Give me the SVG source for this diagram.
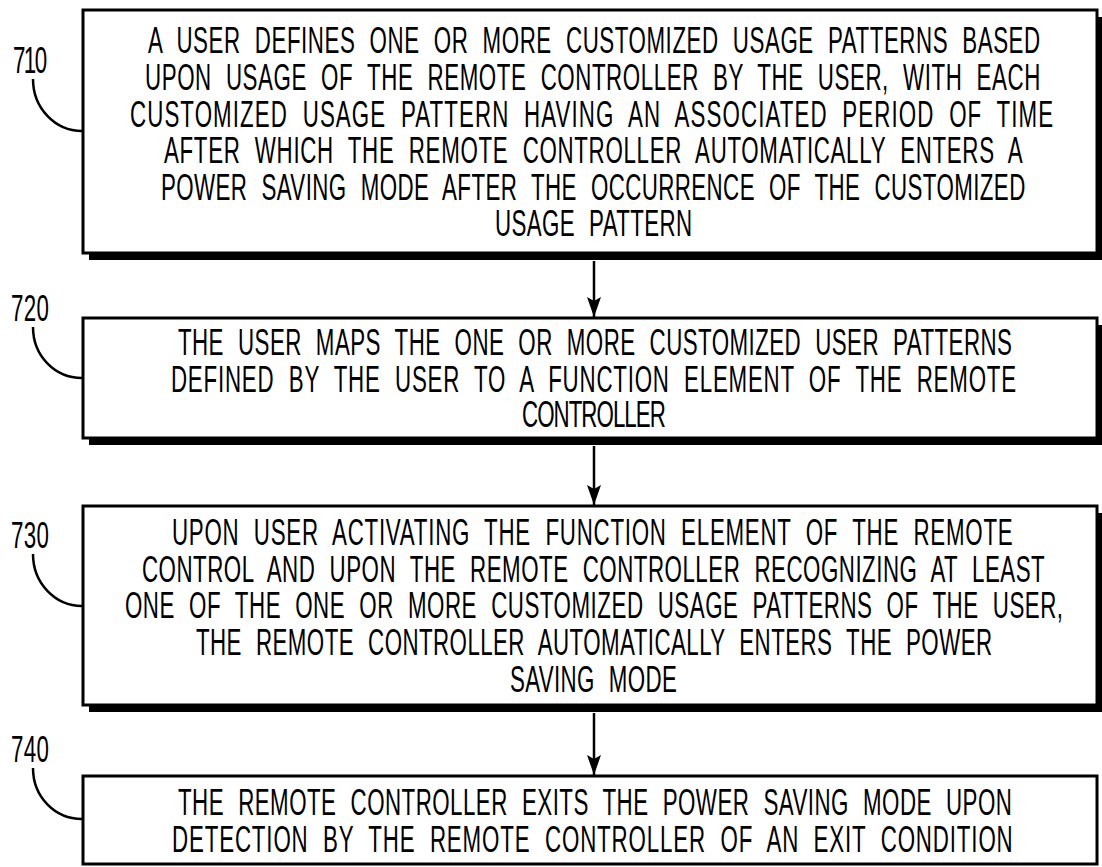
<svg xmlns="http://www.w3.org/2000/svg" width="1102" height="867" viewBox="0 0 1102 867">
<style>
.box{fill:#fff;stroke:#000;stroke-width:3}
.shadow{fill:#000}
.t{font-family:"Liberation Sans",Arial,sans-serif;font-size:36px;fill:#000;word-spacing:12px}
.lead{fill:none;stroke:#000;stroke-width:2.5}
.conn{stroke:#000;stroke-width:2.5;fill:none}
</style>
<defs>
<marker id="ah" markerWidth="20" markerHeight="14" refX="20" refY="7" orient="auto" markerUnits="userSpaceOnUse" viewBox="0 0 20 14">
<path d="M0,0 L20,7 L0,14 L4,7 Z" fill="#000"/>
</marker>
</defs>
<rect width="1102" height="867" fill="#fff"/>
<g id="connectors">
<line class="conn" x1="594" y1="261" x2="594" y2="317" marker-end="url(#ah)"/>
<line class="conn" x1="594" y1="446" x2="594" y2="505" marker-end="url(#ah)"/>
<line class="conn" x1="594" y1="713" x2="594" y2="775" marker-end="url(#ah)"/>
</g>
<g id="n710">
<rect class="shadow" x="89" y="17" width="1014" height="243"/>
<rect class="box" x="83" y="10" width="1014" height="243"/>
<text class="t" transform="translate(148,53) scale(0.62,1)" textLength="1439" lengthAdjust="spacing">A USER DEFINES ONE OR MORE CUSTOMIZED USAGE PATTERNS BASED</text>
<text class="t" transform="translate(145,90) scale(0.62,1)" textLength="1444" lengthAdjust="spacing">UPON USAGE OF THE REMOTE CONTROLLER BY THE USER, WITH EACH</text>
<text class="t" transform="translate(130,127) scale(0.62,1)" textLength="1489" lengthAdjust="spacing">CUSTOMIZED USAGE PATTERN HAVING AN ASSOCIATED PERIOD OF TIME</text>
<text class="t" transform="translate(164,163) scale(0.62,1)" textLength="1385" lengthAdjust="spacing">AFTER WHICH THE REMOTE CONTROLLER AUTOMATICALLY ENTERS A</text>
<text class="t" transform="translate(161,200) scale(0.62,1)" textLength="1394" lengthAdjust="spacing">POWER SAVING MODE AFTER THE OCCURRENCE OF THE CUSTOMIZED</text>
<text class="t" transform="translate(495,236) scale(0.62,1)" textLength="318" lengthAdjust="spacing">USAGE PATTERN</text>
<text class="t" transform="translate(13,73) scale(0.62,1)" textLength="55" lengthAdjust="spacing">710</text>
<path class="lead" d="M33,79 C33,108 55,131 82,131"/>
</g>
<g id="n720">
<rect class="shadow" x="89" y="325" width="1014" height="120"/>
<rect class="box" x="83" y="318" width="1014" height="120"/>
<text class="t" transform="translate(178,355) scale(0.62,1)" textLength="1345" lengthAdjust="spacing">THE USER MAPS THE ONE OR MORE CUSTOMIZED USER PATTERNS</text>
<text class="t" transform="translate(171,392) scale(0.62,1)" textLength="1363" lengthAdjust="spacing">DEFINED BY THE USER TO A FUNCTION ELEMENT OF THE REMOTE</text>
<text class="t" transform="translate(522,427) scale(0.62,1)" textLength="232" lengthAdjust="spacing">CONTROLLER</text>
<text class="t" transform="translate(11,321) scale(0.62,1)" textLength="61" lengthAdjust="spacing">720</text>
<path class="lead" d="M33,327 C33,356 55,378 82,378"/>
</g>
<g id="n730">
<rect class="shadow" x="89" y="513" width="1014" height="199"/>
<rect class="box" x="83" y="506" width="1014" height="199"/>
<text class="t" transform="translate(172,545) scale(0.62,1)" textLength="1356" lengthAdjust="spacing">UPON USER ACTIVATING THE FUNCTION ELEMENT OF THE REMOTE</text>
<text class="t" transform="translate(142,582) scale(0.62,1)" textLength="1456" lengthAdjust="spacing">CONTROL AND UPON THE REMOTE CONTROLLER RECOGNIZING AT LEAST</text>
<text class="t" transform="translate(125,618) scale(0.62,1)" textLength="1513" lengthAdjust="spacing">ONE OF THE ONE OR MORE CUSTOMIZED USAGE PATTERNS OF THE USER,</text>
<text class="t" transform="translate(196,655) scale(0.62,1)" textLength="1284" lengthAdjust="spacing">THE REMOTE CONTROLLER AUTOMATICALLY ENTERS THE POWER</text>
<text class="t" transform="translate(510,692) scale(0.62,1)" textLength="269" lengthAdjust="spacing">SAVING MODE</text>
<text class="t" transform="translate(11,548) scale(0.62,1)" textLength="61" lengthAdjust="spacing">730</text>
<path class="lead" d="M33,554 C33,583 55,606 82,606"/>
</g>
<g id="n740">
<rect class="box" x="83" y="776" width="1014" height="88"/>
<text class="t" transform="translate(178,815) scale(0.62,1)" textLength="1345" lengthAdjust="spacing">THE REMOTE CONTROLLER EXITS THE POWER SAVING MODE UPON</text>
<text class="t" transform="translate(172,852) scale(0.62,1)" textLength="1356" lengthAdjust="spacing">DETECTION BY THE REMOTE CONTROLLER OF AN EXIT CONDITION</text>
<text class="t" transform="translate(11,762) scale(0.62,1)" textLength="61" lengthAdjust="spacing">740</text>
<path class="lead" d="M33,768 C33,797 55,819 82,819"/>
</g>
</svg>
